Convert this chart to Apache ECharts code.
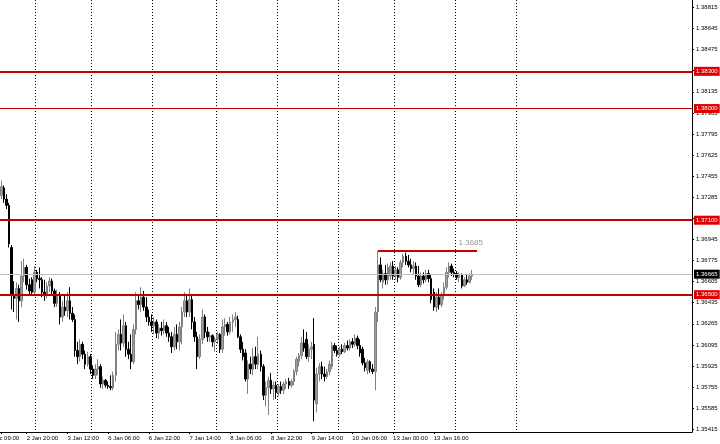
<!DOCTYPE html>
<html><head><meta charset="utf-8">
<script src="https://cdn.jsdelivr.net/npm/echarts@6/dist/echarts.min.js"></script>
<style>html,body{margin:0;padding:0;background:#fff}#c{width:720px;height:444px}</style>
</head><body><div id="c"></div><script>
const opens=[1.3730,1.3736,1.3727,1.3722,1.3688,1.3650,1.3647,1.3655,1.3645,1.3665,
1.3672,1.3658,1.3662,1.3652,1.3668,1.3663,1.3662,1.3652,1.3650,1.3657,
1.3661,1.3653,1.3643,1.3650,1.3632,1.3640,1.3637,1.3645,1.3635,1.3630,
1.3605,1.3600,1.3610,1.3602,1.3594,1.3600,1.3590,1.3585,1.3590,1.3592,
1.3578,1.3581,1.3577,1.3576,1.3575,1.3585,1.3610,1.3618,1.3611,1.3625,
1.3606,1.3602,1.3596,1.3622,1.3645,1.3642,1.3648,1.3640,1.3632,1.3628,
1.3625,1.3628,1.3619,1.3623,1.3621,1.3625,1.3619,1.3616,1.3608,1.3618,
1.3612,1.3624,1.3636,1.3645,1.3636,1.3646,1.3628,1.3616,1.3600,1.3614,
1.3632,1.3620,1.3616,1.3617,1.3612,1.3614,1.3618,1.3606,1.3624,1.3626,
1.3620,1.3628,1.3630,1.3630,1.3616,1.3606,1.3603,1.3582,1.3594,1.3590,
1.3600,1.3594,1.3602,1.3592,1.3569,1.3575,1.3581,1.3574,1.3577,1.3571,
1.3576,1.3573,1.3578,1.3580,1.3577,1.3580,1.3588,1.3596,1.3601,1.3611,
1.3614,1.3600,1.3606,1.3610,1.3562,1.3586,1.3592,1.3586,1.3584,1.3588,
1.3592,1.3609,1.3605,1.3602,1.3606,1.3604,1.3609,1.3607,1.3612,1.3610,
1.3615,1.3609,1.3606,1.3595,1.3589,1.3596,1.3590,1.3588,1.3636,1.3674,
1.3660,1.3667,1.3662,1.3665,1.3673,1.3665,1.3670,1.3664,1.3676,1.3681,
1.3677,1.3674,1.3671,1.3673,1.3665,1.3658,1.3665,1.3662,1.3667,1.3663,
1.3652,1.3640,1.3648,1.3642,1.3650,1.3656,1.3668,1.3673,1.3668,1.3667,
1.3664,1.3666,1.3657,1.3662,1.3660,1.3665];
const highs=[1.3742,1.3738,1.3731,1.3724,1.3690,1.3661,1.3660,1.3658,1.3677,1.3679,
1.3674,1.3663,1.3664,1.3673,1.3670,1.3672,1.3664,1.3662,1.3660,1.3664,
1.3663,1.3655,1.3654,1.3652,1.3645,1.3650,1.3652,1.3656,1.3640,1.3634,
1.3612,1.3614,1.3612,1.3605,1.3604,1.3602,1.3593,1.3594,1.3598,1.3594,
1.3584,1.3582,1.3580,1.3585,1.3588,1.3620,1.3622,1.3630,1.3634,1.3628,
1.3612,1.3618,1.3626,1.3652,1.3650,1.3656,1.3653,1.3648,1.3638,1.3634,
1.3632,1.3630,1.3626,1.3628,1.3630,1.3628,1.3624,1.3620,1.3624,1.3626,
1.3628,1.3640,1.3652,1.3650,1.3655,1.3650,1.3632,1.3620,1.3618,1.3638,
1.3634,1.3624,1.3620,1.3618,1.3616,1.3620,1.3619,1.3630,1.3631,1.3628,
1.3632,1.3634,1.3636,1.3633,1.3618,1.3612,1.3606,1.3597,1.3600,1.3607,
1.3608,1.3616,1.3605,1.3594,1.3580,1.3584,1.3587,1.3580,1.3580,1.3578,
1.3580,1.3580,1.3582,1.3583,1.3582,1.3590,1.3600,1.3603,1.3616,1.3622,
1.3620,1.3610,1.3612,1.3631,1.3591,1.3595,1.3596,1.3592,1.3590,1.3597,
1.3612,1.3611,1.3609,1.3608,1.3610,1.3611,1.3613,1.3614,1.3615,1.3618,
1.3617,1.3614,1.3608,1.3599,1.3598,1.3597,1.3594,1.3640,1.3685,1.3680,
1.3670,1.3674,1.3675,1.3676,1.3677,1.3673,1.3672,1.3678,1.3683,1.3684,
1.3682,1.3679,1.3677,1.3676,1.3673,1.3668,1.3668,1.3670,1.3670,1.3666,
1.3655,1.3652,1.3655,1.3652,1.3660,1.3672,1.3676,1.3675,1.3671,1.3669,
1.3668,1.3667,1.3664,1.3666,1.3667,1.3670];
const lows=[1.3727,1.3724,1.3719,1.3688,1.3638,1.3636,1.3630,1.3628,1.3640,1.3660,
1.3654,1.3650,1.3650,1.3650,1.3660,1.3655,1.3648,1.3645,1.3647,1.3652,
1.3650,1.3640,1.3640,1.3626,1.3628,1.3633,1.3632,1.3630,1.3628,1.3600,
1.3594,1.3596,1.3598,1.3590,1.3592,1.3586,1.3582,1.3582,1.3585,1.3575,
1.3574,1.3575,1.3574,1.3573,1.3573,1.3580,1.3605,1.3605,1.3608,1.3600,
1.3598,1.3590,1.3594,1.3618,1.3638,1.3636,1.3637,1.3628,1.3625,1.3620,
1.3618,1.3615,1.3614,1.3617,1.3618,1.3616,1.3612,1.3603,1.3605,1.3606,
1.3605,1.3610,1.3632,1.3632,1.3632,1.3622,1.3612,1.3590,1.3598,1.3610,
1.3615,1.3612,1.3612,1.3608,1.3604,1.3610,1.3603,1.3603,1.3617,1.3617,
1.3618,1.3620,1.3624,1.3615,1.3603,1.3597,1.3580,1.3570,1.3586,1.3585,
1.3590,1.3590,1.3588,1.3565,1.3560,1.3553,1.3570,1.3565,1.3566,1.3568,
1.3570,1.3570,1.3574,1.3574,1.3575,1.3577,1.3585,1.3592,1.3598,1.3604,
1.3598,1.3596,1.3598,1.3548,1.3555,1.3580,1.3582,1.3580,1.3582,1.3585,
1.3590,1.3603,1.3600,1.3600,1.3602,1.3603,1.3605,1.3605,1.3607,1.3608,
1.3606,1.3600,1.3593,1.3588,1.3586,1.3587,1.3586,1.3573,1.3628,1.3660,
1.3655,1.3658,1.3658,1.3662,1.3662,1.3662,1.3660,1.3662,1.3672,1.3674,
1.3672,1.3668,1.3666,1.3662,1.3656,1.3656,1.3659,1.3660,1.3660,1.3643,
1.3637,1.3636,1.3638,1.3640,1.3646,1.3654,1.3664,1.3665,1.3664,1.3662,
1.3660,1.3655,1.3656,1.3658,1.3659,1.3662];
const closes=[1.3737,1.3727,1.3722,1.3691,1.3650,1.3647,1.3655,1.3645,1.3665,1.3672,
1.3658,1.3653,1.3652,1.3668,1.3663,1.3662,1.3652,1.3650,1.3657,1.3661,
1.3653,1.3643,1.3650,1.3632,1.3640,1.3637,1.3645,1.3635,1.3630,1.3605,
1.3600,1.3610,1.3602,1.3594,1.3600,1.3590,1.3585,1.3590,1.3592,1.3578,
1.3581,1.3577,1.3576,1.3575,1.3585,1.3610,1.3618,1.3611,1.3625,1.3606,
1.3602,1.3596,1.3622,1.3645,1.3642,1.3648,1.3640,1.3632,1.3628,1.3625,
1.3628,1.3619,1.3623,1.3621,1.3625,1.3619,1.3616,1.3608,1.3618,1.3612,
1.3624,1.3636,1.3645,1.3636,1.3646,1.3628,1.3616,1.3600,1.3614,1.3632,
1.3620,1.3616,1.3617,1.3612,1.3614,1.3618,1.3606,1.3624,1.3626,1.3620,
1.3628,1.3630,1.3632,1.3616,1.3606,1.3600,1.3582,1.3594,1.3590,1.3600,
1.3594,1.3602,1.3592,1.3569,1.3575,1.3581,1.3574,1.3577,1.3571,1.3576,
1.3573,1.3578,1.3580,1.3577,1.3580,1.3588,1.3598,1.3601,1.3611,1.3607,
1.3600,1.3606,1.3608,1.3565,1.3586,1.3592,1.3586,1.3584,1.3588,1.3594,
1.3609,1.3605,1.3602,1.3606,1.3604,1.3609,1.3607,1.3612,1.3610,1.3615,
1.3609,1.3603,1.3595,1.3591,1.3596,1.3590,1.3588,1.3636,1.3674,1.3662,
1.3667,1.3662,1.3672,1.3673,1.3665,1.3670,1.3664,1.3676,1.3681,1.3677,
1.3674,1.3671,1.3673,1.3665,1.3658,1.3665,1.3662,1.3667,1.3663,1.3646,
1.3640,1.3648,1.3642,1.3650,1.3656,1.3668,1.3673,1.3668,1.3667,1.3664,
1.3666,1.3657,1.3662,1.3660,1.3665,1.36665];

const yTicks=[1.35415,1.35585,1.35755,1.35925,1.36095,1.36265,1.36435,1.36605,1.36775,1.36945,
1.37115,1.37285,1.37455,1.37625,1.37795,1.37965,1.38135,1.38305,1.38475,1.38645,1.38815];
const xTickIndex=[0,10,26,42,58,74,90,106,122,138,154,170];
const xTickLabels=['31 Dec 09:00','2 Jan 20:00','3 Jan 12:00','6 Jan 06:00','6 Jan 22:00','7 Jan 14:00','8 Jan 06:00','8 Jan 22:00','9 Jan 14:00','10 Jan 06:00','13 Jan 00:00','13 Jan 16:00'];
const gridIndex=[14,36,60,85,109,133,155,179,203];
const majorLevels=[1.38300,1.37100,1.36500];
const minorLevels=[1.38000];
const currentPrice=1.36665;
const resistValue=1.3685, resistFrom=148, resistTo=187;
const slotCount=272;

const cats=[];for(let i=0;i<slotCount;i++)cats.push(String(i));
const candles=opens.map((o,i)=>[o,closes[i],lows[i],highs[i]]);
const FONT='Liberation Sans';
const RED_LINE='#c40000', RED_LABEL='#dd0000';
function lvlLabel(bg){return {show:true,position:'end',distance:2,formatter:p=>Number(p.value).toFixed(5),
  color:'#fff',backgroundColor:bg,fontSize:6,fontFamily:FONT,padding:[2,2,1,2]};}
const mlData=[];
majorLevels.forEach(v=>mlData.push({yAxis:v,lineStyle:{color:RED_LINE,width:2,type:'solid'},label:lvlLabel(RED_LABEL)}));
minorLevels.forEach(v=>mlData.push({yAxis:v,lineStyle:{color:RED_LINE,width:1,type:'solid'},label:lvlLabel(RED_LABEL)}));
mlData.push({yAxis:currentPrice,lineStyle:{color:'#c0c0c0',width:1,type:'solid'},label:lvlLabel('#000')});
mlData.push([{coord:[resistFrom,resistValue]},{coord:[resistTo,resistValue],
  lineStyle:{color:RED_LINE,width:2,type:'solid'},
  label:{show:true,position:'insideEndTop',formatter:String(resistValue),color:'#999',fontSize:8,fontFamily:FONT,distance:3,offset:[9,-1]}}]);

const chart=echarts.init(document.getElementById('c'),null,{renderer:'canvas'});
chart.setOption({
  animation:false,backgroundColor:'#fff',
  grid:{left:0,right:28,top:0,bottom:12,containLabel:false,outerBoundsMode:'none'},
  xAxis:{type:'category',data:cats,boundaryGap:true,
    axisLine:{show:true,lineStyle:{color:'#000',width:1}},
    axisTick:{show:true,alignWithLabel:true,length:2,interval:(i)=>xTickIndex.includes(i),lineStyle:{color:'#000'}},
    axisLabel:{show:true,interval:(i)=>xTickIndex.includes(i),
      formatter:(v)=>{const k=xTickIndex.indexOf(Number(v));return k>=0?xTickLabels[k]:'';},
      align:'left',alignMinLabel:'center',fontSize:6,fontFamily:FONT,color:'#000',margin:3},
    splitLine:{show:true,interval:(i)=>gridIndex.includes(i),lineStyle:{color:'#000',width:1,type:[1,2]}}
  },
  yAxis:{type:'value',position:'right',min:1.35393,max:1.38875,scale:true,
    axisLine:{show:true,lineStyle:{color:'#000',width:1}},
    axisTick:{show:true,length:2,customValues:yTicks,lineStyle:{color:'#000'}},
    axisLabel:{show:true,customValues:yTicks,formatter:v=>v.toFixed(5),fontSize:6,fontFamily:FONT,color:'#000',margin:4},
    splitLine:{show:false}
  },
  series:[{type:'candlestick',data:candles,barWidth:2,
    itemStyle:{color:'#a0a0a0',color0:'#000',borderColor:'#808080',borderColor0:'#000',borderWidth:1},
    markLine:{silent:true,symbol:['none','none'],animation:false,precision:5,data:mlData}
  }]
});
</script></body></html>
